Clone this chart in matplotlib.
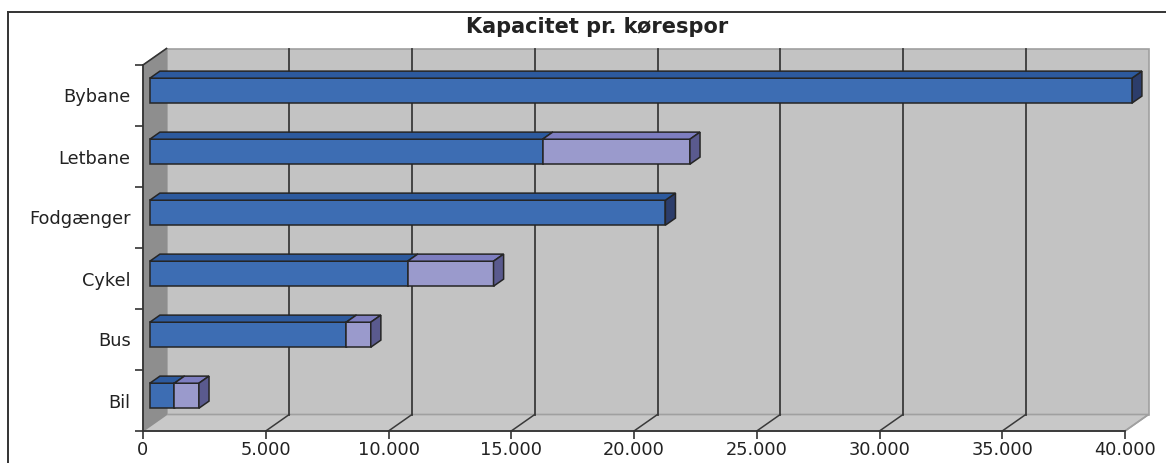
import matplotlib
matplotlib.use("Agg")
import matplotlib.pyplot as plt
from matplotlib.patches import Polygon
from matplotlib.lines import Line2D
from matplotlib.ticker import FuncFormatter, FixedLocator

# ---- data ----
categories = ["Bil", "Bus", "Cykel", "Fodgænger", "Letbane", "Bybane"]
series1 = [1000, 8000, 10500, 21000, 16000, 40000]
series2 = [1000, 1000, 3500, 0, 6000, 0]
xticks = [0, 5000, 10000, 15000, 20000, 25000, 30000, 35000, 40000]
title = "Kapacitet pr. kørespor"

W, H = 1166, 463
fig = plt.figure(figsize=(W / 100, H / 100), dpi=100)
fig.patch.set_facecolor("white")

# front plane of the 3D plot
px_left, px_right, px_top, px_bottom = 143, 1125, 65, 431
ax = fig.add_axes([px_left / W, (H - px_bottom) / H,
                   (px_right - px_left) / W, (px_bottom - px_top) / H])
ax.set_xlim(0, 40000)
ax.set_ylim(-0.5, len(categories) - 0.5)
ax.patch.set_visible(False)

xmax = 40000
per_px_x = xmax / (px_right - px_left)
per_px_y = len(categories) / (px_bottom - px_top)
DX = 23.5 * per_px_x      # depth vector (value units)
DY = 16.5 * per_px_y      # depth vector (category units)
y0, y1 = -0.5, len(categories) - 0.5

wall_col = "#c3c3c3"
side_col = "#8e8e8e"
edge_gray = "#a0a0a0"
grid_col = "#3a3a3a"

# back wall
ax.add_patch(Polygon([(DX, y0 + DY), (xmax + DX, y0 + DY), (xmax + DX, y1 + DY), (DX, y1 + DY)],
                     closed=True, facecolor=wall_col, edgecolor=edge_gray, lw=1.2,
                     clip_on=False, zorder=1))
# floor
ax.add_patch(Polygon([(0, y0), (xmax, y0), (xmax + DX, y0 + DY), (DX, y0 + DY)],
                     closed=True, facecolor="#c8c8c8", edgecolor=edge_gray, lw=1.2,
                     clip_on=False, zorder=1))
# left wall
ax.add_patch(Polygon([(0, y0), (DX, y0 + DY), (DX, y1 + DY), (0, y1)],
                     closed=True, facecolor=side_col, edgecolor=side_col, lw=0.8,
                     clip_on=False, zorder=1.2))

# gridlines on back wall + floor diagonals
for v in xticks:
    if 0 < v < xmax:
        ax.add_line(Line2D([v + DX, v + DX], [y0 + DY, y1 + DY], color=grid_col,
                           lw=1.3, clip_on=False, zorder=2))
    if v > 0:
        ax.add_line(Line2D([v, v + DX], [y0, y0 + DY], color=grid_col if v < xmax else edge_gray,
                           lw=1.1, clip_on=False, zorder=2))
# left wall top edge
ax.add_line(Line2D([0, DX], [y1, y1 + DY], color="#333333", lw=1.2, clip_on=False, zorder=2))

# bars
t0, t1 = 0.29, 0.72
hh = 12.5 * per_px_y
colors = [
    dict(front="#3d6db3", top="#2d5a9e", side="#2c3d6b"),
    dict(front="#9a9acc", top="#7e7ec0", side="#5a5a8e"),
]
ddx, ddy = (t1 - t0) * DX, (t1 - t0) * DY
for i, cat in enumerate(categories):
    start = 0
    segs = [(series1[i], colors[0]), (series2[i], colors[1])]
    nonzero = [s for s in segs if s[0] > 0]
    for k, (val, c) in enumerate(nonzero):
        xa = start + t0 * DX
        xb = start + val + t0 * DX
        yc = i + t0 * DY
        yb, yt = yc - hh, yc + hh
        ax.add_patch(Polygon([(xa, yb), (xb, yb), (xb, yt), (xa, yt)], closed=True,
                             facecolor=c["front"], edgecolor="#252525", lw=1.1,
                             clip_on=False, zorder=5))
        ax.add_patch(Polygon([(xa, yt), (xb, yt), (xb + ddx, yt + ddy), (xa + ddx, yt + ddy)],
                             closed=True, facecolor=c["top"], edgecolor="#252525", lw=1.1,
                             clip_on=False, zorder=5))
        ax.add_patch(Polygon([(xb, yb), (xb, yt), (xb + ddx, yt + ddy), (xb + ddx, yb + ddy)],
                             closed=True, facecolor=c["side"], edgecolor="#252525", lw=1.1,
                             clip_on=False, zorder=5 + k * 0.1 - 0.05))
        start += val

# axes spines / ticks
for s in ["top", "right"]:
    ax.spines[s].set_visible(False)
for s in ["left", "bottom"]:
    ax.spines[s].set_color("#333333")
    ax.spines[s].set_linewidth(1.3)
    ax.spines[s].set_zorder(6)

ax.set_xticks(xticks)
ax.xaxis.set_major_formatter(FuncFormatter(lambda v, p: f"{int(v):,}".replace(",", ".")))
ax.tick_params(axis="x", direction="out", length=5.5, width=1.2, color="#333333",
               labelsize=12.8, labelcolor="#222222", pad=2)

ax.set_yticks(range(len(categories)))
ax.set_yticklabels(categories)
ax.yaxis.set_minor_locator(FixedLocator([i - 0.5 for i in range(len(categories) + 1)]))
ax.tick_params(axis="y", which="major", length=0, labelsize=12.8, labelcolor="#222222", pad=9)
ax.tick_params(axis="y", which="minor", direction="out", length=6, width=1.2, color="#333333")

# title
fig.text(597 / W, 1 - 27 / H, title, ha="center", va="center", fontsize=15,
         fontweight="bold", color="#222222")

# outer frame lines
fig.add_artist(Line2D([8 / W, 1], [1 - 12 / H, 1 - 12 / H], transform=fig.transFigure,
                      color="#333333", lw=1.4))
fig.add_artist(Line2D([8 / W, 8 / W], [0, 1 - 12 / H], transform=fig.transFigure,
                      color="#333333", lw=1.4))

fig.savefig("out.png", dpi=100)
